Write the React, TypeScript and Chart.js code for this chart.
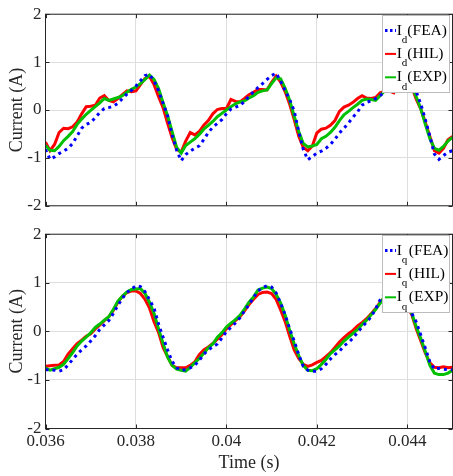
import React, { useEffect, useRef } from "react";
import { Chart, registerables } from "chart.js";

Chart.register(...registerables);

// sampling grid of the recorded waveforms (s)
const T0 = 0.036;
const DT = 0.0001;

const xTickValues = [0.036, 0.038, 0.04, 0.042, 0.044];
const xTickLabels = ["0.036", "0.038", "0.04", "0.042", "0.044"];
const yTickValues = [-2, -1, 0, 1, 2];
const yTickLabels = ["-2", "-1", "0", "1", "2"];

// d-axis current (A)
const idFEA = [
  -0.82, -1.03, -0.98, -0.91, -0.86, -0.8, -0.7, -0.54, -0.38, -0.3,
  -0.26, -0.16, -0.05, 0.03, 0.05, 0.08, 0.14, 0.24, 0.33, 0.41,
  0.5, 0.61, 0.72, 0.74, 0.61, 0.4, 0.14, -0.12, -0.52, -0.84,
  -1.06, -0.93, -0.86, -0.8, -0.75, -0.62, -0.47, -0.36, -0.28, -0.2,
  -0.08, 0.02, 0.06, 0.09, 0.18, 0.29, 0.38, 0.47, 0.55, 0.64,
  0.72, 0.77, 0.6, 0.4, 0.22, -0.02, -0.45, -0.82, -1.04, -0.97,
  -0.9, -0.86, -0.8, -0.72, -0.61, -0.48, -0.38, -0.27, -0.15, -0.04,
  0.1, 0.16, 0.19, 0.24, 0.3, 0.38, 0.46, 0.55, 0.64, 0.72,
  0.75, 0.6, 0.38, 0.12, -0.2, -0.55, -0.92, -1.03, -0.95, -0.88, -0.85,
];
const idHIL = [
  -0.67, -0.85, -0.72, -0.47, -0.38, -0.39, -0.35, -0.25, -0.08, 0.07,
  0.08, 0.1, 0.25, 0.3, 0.2, 0.17, 0.24, 0.32, 0.4, 0.38,
  0.4, 0.53, 0.66, 0.7, 0.53, 0.28, 0.05, -0.28, -0.58, -0.82,
  -0.88, -0.65, -0.47, -0.52, -0.45, -0.32, -0.22, -0.08, 0.01, 0.03,
  0.03, 0.22, 0.18, 0.17, 0.24, 0.32, 0.37, 0.43, 0.43, 0.42,
  0.58, 0.71, 0.58, 0.38, 0.12, -0.2, -0.55, -0.78, -0.85, -0.75,
  -0.48, -0.4, -0.38, -0.32, -0.22, -0.03, 0.06, 0.1, 0.16, 0.24,
  0.3, 0.25, 0.24, 0.26, 0.36, 0.39, 0.4, 0.36, 0.55, 0.68,
  0.7, 0.48, 0.22, 0.02, -0.26, -0.55, -0.85, -0.9, -0.8, -0.62, -0.55,
];
const idEXP = [
  -0.74, -0.84, -0.85, -0.76, -0.64, -0.55, -0.45, -0.3, -0.19, -0.09,
  -0.01, 0.07, 0.15, 0.24, 0.2, 0.23, 0.26, 0.3, 0.37, 0.43,
  0.48, 0.55, 0.64, 0.73, 0.64, 0.45, 0.15, -0.12, -0.45, -0.78,
  -0.9, -0.74, -0.67, -0.6, -0.51, -0.4, -0.32, -0.24, -0.14, -0.07,
  0.0, 0.07, 0.13, 0.17, 0.19, 0.25, 0.3, 0.37, 0.4, 0.42,
  0.55, 0.67, 0.65, 0.45, 0.2, -0.13, -0.45, -0.7, -0.77, -0.75,
  -0.72, -0.6, -0.55, -0.47, -0.36, -0.22, -0.1, -0.03, 0.05, 0.12,
  0.2, 0.23, 0.22, 0.2, 0.3, 0.4, 0.46, 0.55, 0.62, 0.7,
  0.72, 0.5, 0.27, 0.02, -0.3, -0.6, -0.8, -0.84, -0.76, -0.65, -0.57,
];

// q-axis current (A)
const iqFEA = [
  -0.79, -0.79, -0.8, -0.82, -0.79, -0.69, -0.58, -0.47, -0.38, -0.3,
  -0.2, -0.09, 0.04, 0.13, 0.22, 0.37, 0.53, 0.68, 0.8, 0.87,
  0.94, 0.92, 0.82, 0.65, 0.48, 0.15, -0.12, -0.38, -0.62, -0.75,
  -0.8, -0.79, -0.75, -0.7, -0.6, -0.47, -0.38, -0.32, -0.26, -0.14,
  0.0, 0.08, 0.17, 0.28, 0.42, 0.55, 0.7, 0.83, 0.9, 0.94,
  0.91, 0.79, 0.58, 0.34, 0.05, -0.2, -0.48, -0.72, -0.8, -0.82,
  -0.82, -0.77, -0.68, -0.57, -0.48, -0.41, -0.3, -0.23, -0.14, -0.02,
  0.09, 0.19, 0.3, 0.46, 0.65, 0.78, 0.88, 0.93, 0.9, 0.75,
  0.55, 0.37, 0.19, -0.08, -0.35, -0.63, -0.78, -0.76, -0.78, -0.79, -0.79,
];
const iqHIL = [
  -0.72, -0.71, -0.7, -0.69, -0.62, -0.47, -0.36, -0.25, -0.18, -0.1,
  -0.05, 0.05, 0.13, 0.22, 0.3, 0.43, 0.6, 0.72, 0.8, 0.83,
  0.83, 0.78, 0.66, 0.48, 0.2, -0.02, -0.33, -0.52, -0.7, -0.75,
  -0.75, -0.75, -0.7, -0.63, -0.48, -0.38, -0.32, -0.25, -0.16, -0.07,
  0.05, 0.14, 0.22, 0.3, 0.42, 0.55, 0.66, 0.76, 0.8, 0.81,
  0.78, 0.66, 0.44, 0.2, -0.1, -0.38, -0.56, -0.68, -0.72, -0.69,
  -0.64, -0.6, -0.52, -0.44, -0.33, -0.22, -0.13, -0.05, 0.02, 0.11,
  0.18, 0.26, 0.36, 0.47, 0.6, 0.7, 0.78, 0.8, 0.76, 0.68,
  0.52, 0.34, 0.05, -0.2, -0.45, -0.65, -0.74, -0.75, -0.73, -0.75, -0.74,
];
const iqEXP = [
  -0.75, -0.8, -0.77, -0.74, -0.68, -0.56, -0.44, -0.3, -0.2, -0.12,
  -0.03, 0.08, 0.15, 0.23, 0.3, 0.45, 0.62, 0.72, 0.81, 0.86,
  0.87, 0.88, 0.78, 0.6, 0.37, 0.05, -0.25, -0.53, -0.7, -0.78,
  -0.8, -0.82, -0.74, -0.65, -0.56, -0.45, -0.34, -0.26, -0.12, -0.03,
  0.09, 0.17, 0.24, 0.33, 0.46, 0.6, 0.71, 0.85, 0.89, 0.91,
  0.88, 0.76, 0.58, 0.33, 0.02, -0.26, -0.5, -0.7, -0.8, -0.81,
  -0.77, -0.68, -0.58, -0.46, -0.38, -0.3, -0.2, -0.12, -0.04, 0.04,
  0.14, 0.23, 0.34, 0.45, 0.58, 0.72, 0.84, 0.9, 0.88, 0.75,
  0.58, 0.37, 0.09, -0.15, -0.42, -0.7, -0.86, -0.89, -0.89, -0.86, -0.8,
];

const BLUE = "#0000ff";
const RED = "#ff0000";
const GREEN = "#00c000";
const AXIS = "#262626";
const GRID = "#dedede";
const SERIF = "'Liberation Serif', 'Times New Roman', serif";

type Series = { values: number[]; color: string; dash: number[]; width: number; order: number; tail: string };

const toPoints = (vals: number[]) => vals.map((y, i) => ({ x: T0 + i * DT, y }));

function overlayPlugin(sub: string, series: Series[], subGap: number) {
  return {
    id: "overlay",
    afterDatasetsDraw(chart: any) {
      const { ctx, chartArea: a, scales } = chart;
      ctx.save();
      // inward tick marks and axes box
      ctx.strokeStyle = AXIS;
      ctx.lineWidth = 1;
      ctx.setLineDash([]);
      ctx.beginPath();
      for (const v of xTickValues) {
        const px = Math.round(scales.x.getPixelForValue(v)) + 0.5;
        ctx.moveTo(px, a.top);
        ctx.lineTo(px, a.top + 4);
        ctx.moveTo(px, a.bottom);
        ctx.lineTo(px, a.bottom - 4);
      }
      for (const v of yTickValues) {
        const py = Math.round(scales.y.getPixelForValue(v)) + 0.5;
        ctx.moveTo(a.left, py);
        ctx.lineTo(a.left + 4, py);
        ctx.moveTo(a.right, py);
        ctx.lineTo(a.right - 4, py);
      }
      ctx.stroke();
      ctx.strokeRect(a.left, a.top, a.right - a.left, a.bottom - a.top);

      // legend
      const lx = 382.5;
      const ly = Math.round(a.top + 1.2) + 0.5;
      const lw = 67;
      const lh = 77;
      ctx.fillStyle = "#ffffff";
      ctx.fillRect(lx, ly, lw, lh);
      ctx.strokeStyle = "#bcbcbc";
      ctx.lineWidth = 1;
      ctx.strokeRect(lx, ly, lw, lh);
      series.forEach((s, i) => {
        const base = ly + 19 + i * 23.4;
        ctx.beginPath();
        ctx.strokeStyle = s.color;
        ctx.lineWidth = s.dash.length ? 3 : 2;
        ctx.setLineDash(s.dash.length ? [2.5, 2.5] : []);
        ctx.lineCap = "butt";
        ctx.moveTo(lx + 2.5, base - 4);
        ctx.lineTo(lx + 13.5, base - 4);
        ctx.stroke();
        ctx.setLineDash([]);
        ctx.fillStyle = "#000000";
        ctx.textAlign = "left";
        ctx.textBaseline = "alphabetic";
        let x = lx + 14.2;
        ctx.font = `15.5px ${SERIF}`;
        ctx.fillText("I", x, base);
        x += ctx.measureText("I").width;
        ctx.font = `11px ${SERIF}`;
        ctx.fillText(sub, x, base + 8.5);
        x += ctx.measureText(sub).width + subGap;
        ctx.font = `15.5px ${SERIF}`;
        ctx.fillText(s.tail, x, base);
      });
      ctx.restore();
    },
  };
}

type PlotProps = {
  top: number;
  height: number;
  padTop: number;
  padBottom: number;
  xAxisHeight: number;
  showX: boolean;
  sub: string;
  subGap: number;
  series: Series[];
};

function Plot(p: PlotProps) {
  const ref = useRef<HTMLCanvasElement | null>(null);
  useEffect(() => {
    if (!ref.current) return;
    const chart = new Chart(ref.current, {
      type: "line",
      data: {
        datasets: p.series.map((s) => ({
          label: s.tail,
          data: toPoints(s.values),
          borderColor: s.color,
          backgroundColor: s.color,
          borderWidth: s.width,
          borderDash: s.dash,
          borderCapStyle: "butt",
          borderJoinStyle: "miter",
          pointRadius: 0,
          tension: 0,
          fill: false,
          order: s.order,
        })),
      },
      options: {
        animation: false,
        responsive: false,
        maintainAspectRatio: false,
        devicePixelRatio: 1,
        layout: { padding: { left: 0, right: 0.5, top: p.padTop, bottom: p.padBottom } },
        plugins: { legend: { display: false }, tooltip: { enabled: false } },
        scales: {
          x: {
            type: "linear",
            min: 0.036,
            max: 0.045,
            border: { display: false },
            grid: { color: GRID, lineWidth: 1, drawTicks: false },
            afterBuildTicks: (s: any) => {
              s.ticks = xTickValues.map((v) => ({ value: v }));
            },
            afterFit: (s: any) => {
              s.height = p.xAxisHeight;
            },
            ticks: {
              display: p.showX,
              autoSkip: false,
              maxRotation: 0,
              padding: 3,
              color: AXIS,
              font: { family: SERIF, size: 17 },
              callback: (_v: any, i: number) => xTickLabels[i],
            },
            title: {
              display: p.showX,
              text: "Time (s)",
              color: AXIS,
              font: { family: SERIF, size: 18 },
              padding: { top: 0, bottom: 2 },
            },
          },
          y: {
            type: "linear",
            min: -2,
            max: 2,
            border: { display: false },
            grid: { color: GRID, lineWidth: 1, drawTicks: false },
            afterBuildTicks: (s: any) => {
              s.ticks = yTickValues.map((v) => ({ value: v }));
            },
            afterFit: (s: any) => {
              s.width = 45.5;
            },
            ticks: {
              autoSkip: false,
              padding: 4,
              color: AXIS,
              font: { family: SERIF, size: 17 },
              callback: (_v: any, i: number) => yTickLabels[i],
            },
            title: {
              display: true,
              text: "Current (A)",
              color: AXIS,
              font: { family: SERIF, size: 18 },
              padding: { top: 6, bottom: 0 },
            },
          },
        },
      },
      plugins: [overlayPlugin(p.sub, p.series, p.subGap)],
    } as any);
    return () => chart.destroy();
  }, []);
  return (
    <canvas
      ref={ref}
      width={453}
      height={p.height}
      style={{ position: "absolute", left: 0, top: p.top, width: 453, height: p.height, display: "block" }}
    />
  );
}

const idSeries: Series[] = [
  { values: idFEA, color: BLUE, dash: [3, 4], width: 3, order: 1, tail: "(FEA)" },
  { values: idHIL, color: RED, dash: [], width: 3, order: 3, tail: "(HIL)" },
  { values: idEXP, color: GREEN, dash: [], width: 3, order: 2, tail: "(EXP)" },
];
const iqSeries: Series[] = [
  { values: iqFEA, color: BLUE, dash: [3, 4], width: 3, order: 1, tail: "(FEA)" },
  { values: iqHIL, color: RED, dash: [], width: 3, order: 3, tail: "(HIL)" },
  { values: iqEXP, color: GREEN, dash: [], width: 3, order: 2, tail: "(EXP)" },
];

export default function App() {
  return (
    <div style={{ position: "fixed", left: 0, top: 0, width: 453, height: 476, background: "#ffffff", overflow: "hidden" }}>
      <Plot top={0} height={220} padTop={11.5} padBottom={10.5} xAxisHeight={0} showX={false} sub="d" subGap={0} series={idSeries} />
      <Plot top={220} height={256} padTop={10.5} padBottom={0} xAxisHeight={47.5} showX={true} sub="q" subGap={1.5} series={iqSeries} />
    </div>
  );
}
